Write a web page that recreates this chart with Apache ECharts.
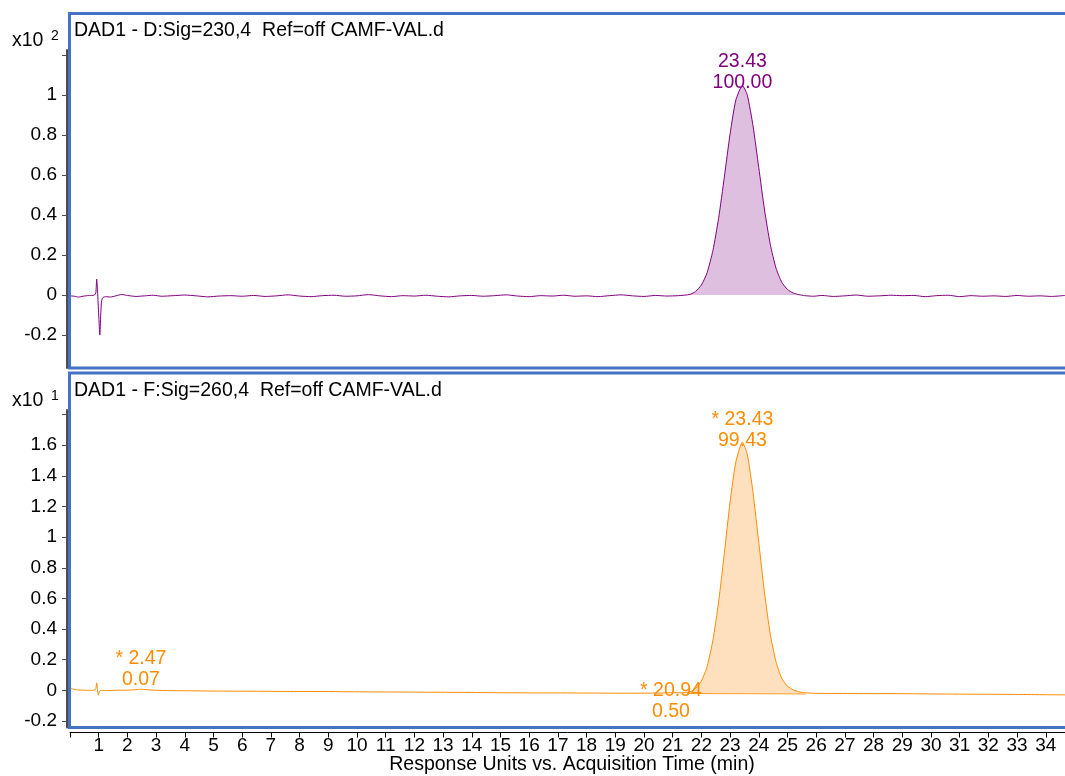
<!DOCTYPE html>
<html><head><meta charset="utf-8">
<script src="https://cdn.jsdelivr.net/npm/echarts@6/dist/echarts.min.js"></script>
<style>html,body{margin:0;padding:0;background:#fff}#c{width:1065px;height:776px}</style>
</head><body><div id="c"></div>
<script>
// ---- Data ----
const timeTop = [0, 0.15, 0.3, 0.45, 0.6, 0.75, 0.85, 0.9, 0.93, 0.96, 1.0, 1.04, 1.07, 1.1, 1.15, 1.25, 1.4, 1.6, 1.8, 2.0, 2.3, 2.6, 2.9, 3.2, 3.6, 4.0, 4.4, 4.8, 5.2, 5.6, 6.0, 6.4, 6.8, 7.2, 7.6, 8.0, 8.4, 8.8, 9.2, 9.6, 10.0, 10.4, 10.8, 11.2, 11.6, 12.0, 12.4, 12.8, 13.2, 13.6, 14.0, 14.4, 14.8, 15.2, 15.6, 16.0, 16.4, 16.8, 17.2, 17.6, 18.0, 18.4, 18.8, 19.2, 19.6, 20.0, 20.4, 20.8, 21.2, 21.6, 21.8, 22.0, 22.2, 22.4, 22.6, 22.8, 23.0, 23.2, 23.43, 23.6, 23.8, 24.0, 24.2, 24.4, 24.6, 24.8, 25.0, 25.2, 25.4, 25.6, 25.9, 26.2, 26.6, 27.0, 27.4, 27.8, 28.2, 28.6, 29.0, 29.4, 29.8, 30.2, 30.6, 31.0, 31.4, 31.8, 32.2, 32.6, 33.0, 33.4, 33.8, 34.2, 34.67];
const signalTop = [-0.004, -0.006, -0.010, -0.006, -0.003, -0.002, 0.000, 0.010, 0.080, 0.020, -0.100, -0.200, -0.100, -0.030, -0.012, -0.008, -0.010, -0.004, 0.003, -0.002, -0.007, -0.004, -0.001, -0.006, -0.003, 0.000, -0.004, -0.009, -0.005, -0.003, -0.006, -0.002, -0.007, -0.004, 0.001, -0.005, -0.008, -0.003, -0.001, -0.006, -0.004, 0.002, -0.004, -0.008, -0.003, -0.005, -0.001, -0.006, -0.009, -0.004, -0.002, -0.006, -0.003, 0.001, -0.005, -0.008, -0.003, -0.005, -0.001, -0.006, -0.004, -0.008, -0.003, 0.001, -0.004, -0.007, -0.002, -0.005, -0.003, 0.003, 0.018, 0.050, 0.112, 0.222, 0.384, 0.590, 0.806, 0.975, 1.048, 1.000, 0.846, 0.637, 0.426, 0.254, 0.135, 0.064, 0.028, 0.010, 0.002, -0.003, -0.006, -0.002, -0.007, -0.004, 0.000, -0.006, -0.004, -0.001, -0.003, -0.002, -0.008, -0.003, -0.001, -0.008, -0.003, -0.006, -0.004, -0.007, -0.002, -0.006, -0.004, -0.007, -0.002];

const timeBottom = [0, 0.1, 0.25, 0.45, 0.65, 0.85, 0.9, 0.93, 0.96, 0.99, 1.03, 1.1, 1.3, 1.6, 2.0, 2.3, 2.47, 2.65, 3.0, 3.5, 4, 5, 6, 7, 8, 9, 10, 11, 12, 13, 14, 15, 16, 17, 18, 19, 20, 20.6, 20.94, 21.3, 21.6, 21.8, 22.0, 22.2, 22.4, 22.6, 22.8, 23.0, 23.2, 23.43, 23.6, 23.8, 24.0, 24.2, 24.4, 24.6, 24.8, 25.0, 25.2, 25.4, 25.6, 26, 27, 28, 29, 30, 31, 32, 33, 34, 34.67];
const signalBottom = [0.014, 0.008, 0.003, 0.001, 0.000, 0.000, 0.012, 0.048, 0.000, -0.032, -0.005, 0.000, -0.002, 0.000, 0.001, 0.004, 0.007, 0.004, 0.000, -0.002, -0.003, -0.005, -0.006, -0.007, -0.008, -0.008, -0.010, -0.011, -0.012, -0.013, -0.014, -0.016, -0.017, -0.017, -0.018, -0.019, -0.019, -0.018, -0.016, -0.016, -0.010, 0.012, 0.060, 0.156, 0.325, 0.576, 0.895, 1.230, 1.490, 1.620, 1.540, 1.290, 0.965, 0.636, 0.368, 0.186, 0.078, 0.027, 0.003, -0.010, -0.016, -0.020, -0.021, -0.022, -0.022, -0.024, -0.025, -0.026, -0.027, -0.029, -0.030];

// integration baseline under the main bottom peak
const baselineBottomTimes = [21.5, 25.65];
const baselineBottomValues = [-0.021, -0.024];

// peak annotations
const topPeakTimes = [23.43];
const topPeakHeights = [1.048];
const topPeakRT = ['23.43'];
const topPeakArea = ['100.00'];

const bottomPeakTimes = [2.47, 20.94, 23.43];
const bottomPeakHeights = [0.007, -0.016, 1.62];
const bottomPeakRT = ['* 2.47', '* 20.94', '* 23.43'];
const bottomPeakArea = ['0.07', '0.50', '99.43'];

const yTicksTop = [-0.2, 0, 0.2, 0.4, 0.6, 0.8, 1, 1.2];
const yLabelsTop = [-0.2, 0, 0.2, 0.4, 0.6, 0.8, 1];
const yTicksBottom = [-0.2, 0, 0.2, 0.4, 0.6, 0.8, 1, 1.2, 1.4, 1.6, 1.8];
const yLabelsBottom = [-0.2, 0, 0.2, 0.4, 0.6, 0.8, 1, 1.2, 1.4, 1.6];

const titleTop = 'DAD1 - D:Sig=230,4  Ref=off CAMF-VAL.d';
const titleBottom = 'DAD1 - F:Sig=260,4  Ref=off CAMF-VAL.d';
const xAxisTitle = 'Response Units vs. Acquisition Time (min)';

// ---- Build ----
const FONT = '"Liberation Sans", Arial, Helvetica, sans-serif';
const FS = 19;
const FT = 19.5;
const X_MAX = 34.67;
const PURPLE = '#800080';
const ORANGE = '#FF8C00';
const BLUE = '#4472C4';

const topData = timeTop.map((t, i) => [t, signalTop[i]]);
const bottomData = timeBottom.map((t, i) => [t, signalBottom[i]]);
const topPeakData = topData.filter(p => p[0] >= 21.6 && p[0] <= 25.6);
const bottomPeakData = bottomData.filter(p => p[0] >= 21.6 && p[0] <= 25.6);
const baselineData = baselineBottomTimes.map((t, i) => [t, baselineBottomValues[i]]);

const bottomLabelOffsets = [[0, 1], [0, 29], [0, 9]];

function yAxis(gridIndex, min, max, ticks, labels) {
  return {
    gridIndex, type: 'value', min, max, offset: 3,
    axisLine: { show: true, onZero: false, lineStyle: { color: '#4d4d4d', width: 2 } },
    axisTick: { show: true, length: 5, customValues: ticks, lineStyle: { color: '#4d4d4d', width: 1 } },
    axisLabel: { customValues: labels, fontSize: FS, color: '#000', fontFamily: FONT, margin: 10 },
    splitLine: { show: false }
  };
}

const option = {
  animation: false,
  backgroundColor: '#fff',
  grid: [
    { left: 70, right: 0, top: 50, height: 318 },
    { left: 70, right: 0, top: 410, height: 317.5 }
  ],
  xAxis: [
    { gridIndex: 0, type: 'value', min: 0, max: X_MAX, show: false, axisLine: { onZero: false } },
    {
      gridIndex: 1, type: 'value', min: 0, max: X_MAX, interval: 1, offset: 5, position: 'bottom',
      axisLine: { show: true, onZero: false, lineStyle: { color: '#000', width: 1 } },
      axisTick: { show: true, length: 5, lineStyle: { color: '#000' } },
      axisLabel: { fontSize: FS, color: '#000', fontFamily: FONT, margin: 4,
        formatter: v => (v === 0 ? '' : String(v)) },
      splitLine: { show: false }
    }
  ],
  yAxis: [
    yAxis(0, -0.365, 1.226, yTicksTop, yLabelsTop),
    yAxis(1, -0.243, 1.83, yTicksBottom, yLabelsBottom)
  ],
  series: [
    {
      type: 'line', xAxisIndex: 0, yAxisIndex: 0, data: topPeakData, smooth: 0.3,
      symbol: 'none', lineStyle: { width: 0 }, areaStyle: { color: '#DFBFDF', opacity: 1, origin: 0 }, z: 1
    },
    {
      type: 'line', xAxisIndex: 0, yAxisIndex: 0, data: topData, smooth: 0.2,
      symbol: 'none', lineStyle: { color: PURPLE, width: 1 }, z: 2,
      markPoint: {
        symbol: 'circle', symbolSize: 0,
        data: topPeakTimes.map((t, i) => ({
          coord: [t, topPeakHeights[i]],
          label: { show: true, position: 'top', distance: 0, offset: [0, 8],
            formatter: topPeakRT[i] + '\n' + topPeakArea[i],
            color: PURPLE, fontSize: FT, lineHeight: 21, fontFamily: FONT, align: 'center' }
        }))
      }
    },
    {
      type: 'line', xAxisIndex: 1, yAxisIndex: 1, data: bottomPeakData, smooth: 0.3,
      symbol: 'none', lineStyle: { width: 0 }, areaStyle: { color: '#FEE0BF', opacity: 1, origin: -0.023 }, z: 1
    },
    {
      type: 'line', xAxisIndex: 1, yAxisIndex: 1, data: baselineData,
      symbol: 'none', lineStyle: { color: ORANGE, width: 1, opacity: 0.8 }, z: 2
    },
    {
      type: 'line', xAxisIndex: 1, yAxisIndex: 1, data: bottomData, smooth: 0.2,
      symbol: 'none', lineStyle: { color: ORANGE, width: 1 }, z: 3,
      markPoint: {
        symbol: 'circle', symbolSize: 0,
        data: bottomPeakTimes.map((t, i) => ({
          coord: [t, bottomPeakHeights[i]],
          label: { show: true, position: 'top', distance: 0, offset: bottomLabelOffsets[i],
            formatter: bottomPeakRT[i] + '\n' + bottomPeakArea[i],
            color: ORANGE, fontSize: FT, lineHeight: 21, fontFamily: FONT, align: 'center' }
        }))
      }
    }
  ],
  graphic: [
    { type: 'rect', z: 100, silent: true, shape: { x: 69.5, y: 13.5, width: 1010, height: 354.5 },
      style: { fill: 'none', stroke: BLUE, lineWidth: 3 } },
    { type: 'rect', z: 100, silent: true, shape: { x: 69.5, y: 373, width: 1010, height: 354.5 },
      style: { fill: 'none', stroke: BLUE, lineWidth: 3 } },
    { type: 'text', z: 101, x: 74, y: 31, style: { text: titleTop, font: FT + 'px ' + FONT, fill: '#000', verticalAlign: 'middle' } },
    { type: 'text', z: 101, x: 74, y: 391, style: { text: titleBottom, font: FT + 'px ' + FONT, fill: '#000', verticalAlign: 'middle' } },
    { type: 'text', z: 101, x: 12, y: 41, style: { text: 'x10', font: FT + 'px ' + FONT, fill: '#000', verticalAlign: 'middle' } },
    { type: 'text', z: 101, x: 51, y: 36, style: { text: '2', font: '14px ' + FONT, fill: '#000', verticalAlign: 'middle' } },
    { type: 'text', z: 101, x: 12, y: 401, style: { text: 'x10', font: FT + 'px ' + FONT, fill: '#000', verticalAlign: 'middle' } },
    { type: 'text', z: 101, x: 51, y: 396, style: { text: '1', font: '14px ' + FONT, fill: '#000', verticalAlign: 'middle' } },
    { type: 'text', z: 101, x: 572, y: 765, style: { text: xAxisTitle, font: FT + 'px ' + FONT, fill: '#000', align: 'center', verticalAlign: 'middle' } }
  ]
};

const chart = echarts.init(document.getElementById('c'), null, { renderer: 'canvas' });
chart.setOption(option);
</script>
</body></html>
